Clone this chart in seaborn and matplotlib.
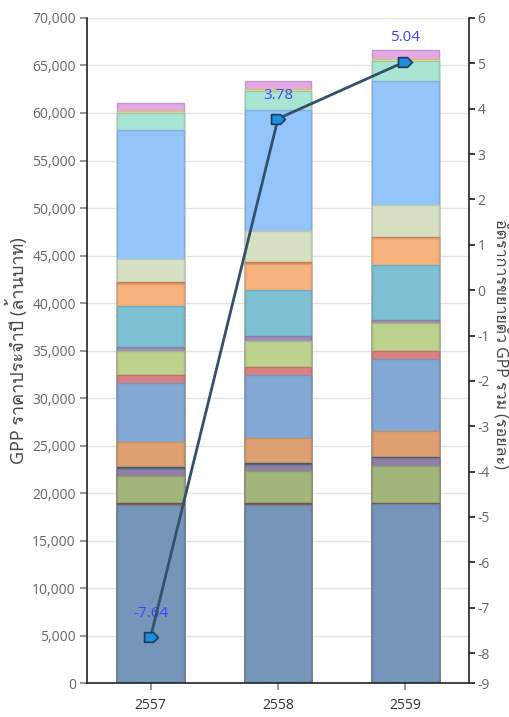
import seaborn as sns
import matplotlib
matplotlib.use("Agg")
import matplotlib.pyplot as plt
import matplotlib.colors as mcolors
from matplotlib import font_manager
from matplotlib.ft2font import FT2Font
from matplotlib.path import Path
from matplotlib.ticker import FuncFormatter
import numpy as np

# Data (ล้านบาท), stacked from bottom to top
years = ["2557", "2558", "2559"]
layers = [
    [18780, 18700, 18800],   # 1
    [200, 200, 200],         # 2
    [2850, 3400, 3850],      # 3
    [700, 700, 870],         # 4
    [200, 150, 100],         # 5
    [2680, 2660, 2740],      # 6
    [6130, 6610, 7520],      # 7
    [870, 880, 870],         # 8
    [2550, 2690, 2950],      # 9
    [360, 530, 350],         # 10
    [4360, 4820, 5800],      # 11
    [2350, 2800, 2800],      # 12
    [160, 170, 140],         # 13
    [2400, 3260, 3320],      # 14
    [13600, 12770, 13050],   # 15
    [1840, 1990, 2100],      # 16
    [160, 170, 180],         # 17
    [890, 880, 970],         # 18
]
layer_colors = [
    "#7595bb", "#8b5a4a", "#a2b57b", "#9080a8", "#45687a", "#dea070",
    "#84a8d4", "#d98080", "#bcd18c", "#9b8fba", "#7dc0d3", "#f7b27d",
    "#e48a5f", "#d7e1c2", "#93c5fb", "#a8e5d2", "#f3e07c", "#e2a9e4",
]
growth = [-7.64, 3.78, 5.04]


def find_thai_font():
    for f in font_manager.fontManager.ttflist:
        try:
            cm = FT2Font(f.fname).get_charmap()
        except Exception:
            continue
        if 0x0E01 in cm and 0x0E32 in cm and 0x0E49 in cm:
            return f.name
    return None


sns.set_theme(style="white")
thai = find_thai_font()
families = ["Open Sans", "DejaVu Sans"]
if thai:
    families = ["Open Sans", thai, "DejaVu Sans"]
plt.rcParams["font.family"] = families

fig = plt.figure(figsize=(5.1, 7.17), dpi=100)
ax = fig.add_axes([0.1706, 0.0474, 0.749, 0.9275])


def darker(c, f=0.88):
    r, g, b = mcolors.to_rgb(c)
    return (r * f, g * f, b * f)


# stacked bars: draw cumulative totals from the top layer down
cum = np.cumsum(np.array(layers), axis=0)
for k in range(len(layers) - 1, -1, -1):
    sns.barplot(
        x=years,
        y=cum[k],
        color=layer_colors[k],
        edgecolor=darker(layer_colors[k]),
        linewidth=1,
        width=0.524,
        saturation=1,
        ax=ax,
        zorder=2,
    )

ax.set_xlim(-0.5, 2.5)
ax.set_ylim(0, 70000)
ax.set_yticks(range(0, 70001, 5000))
ax.yaxis.set_major_formatter(FuncFormatter(lambda v, p: f"{int(v):,}"))
ax.yaxis.grid(True, color="#e3e3e3", linewidth=1)
ax.set_axisbelow(True)
ax.tick_params(axis="y", left=True, length=5, color="#888888",
               labelcolor="#666666", labelsize=10, pad=3)
ax.tick_params(axis="x", bottom=True, length=5, color="#888888",
               labelcolor="#333333", labelsize=10, pad=6)
ax.set_xlabel("")
ax.set_ylabel("GPP ราคาประจำปี (ล้านบาท)", fontsize=13, color="#444444", labelpad=3)
for s in ["top", "right"]:
    ax.spines[s].set_visible(False)
for s in ["left", "bottom"]:
    ax.spines[s].set_color("#222222")
    ax.spines[s].set_linewidth(1.2)

# growth line on the right axis
ax2 = ax.twinx()
arrow = Path([(-1, -0.7), (0.3, -0.7), (1, 0), (0.3, 0.7), (-1, 0.7), (-1, -0.7)],
             [Path.MOVETO, Path.LINETO, Path.LINETO, Path.LINETO, Path.LINETO, Path.CLOSEPOLY])
sns.lineplot(
    x=[0, 1, 2],
    y=growth,
    ax=ax2,
    color="#34506e",
    linewidth=2,
    marker=arrow,
    markersize=10,
    markerfacecolor="#1e8fe0",
    markeredgecolor="#203a56",
    markeredgewidth=1.2,
    zorder=5,
)
for i, v in enumerate(growth):
    ax2.annotate(f"{v:.2f}", (i, v), xytext=(0, 17), textcoords="offset points",
                 ha="center", va="center", color="#4040ff", fontsize=11)

ax2.set_xlim(-0.5, 2.5)
ax2.set_ylim(-8.66, 6)
rticks = list(range(-8, 7)) + [-8.66]
ax2.set_yticks(rticks)
ax2.set_yticklabels([str(t) for t in range(-8, 7)] + ["-9"])
ax2.tick_params(axis="y", right=True, length=4, color="#222222",
                labelcolor="#666666", labelsize=10, pad=2)
ax2.set_ylabel("อัตราการขยายตัว GPP รวม (ร้อยละ)", fontsize=11.5, color="#444444",
               rotation=270, va="center", ha="center")
ax2.yaxis.set_label_coords(1.084, 0.51)
ax2.grid(False)
for s in ["top", "left", "bottom"]:
    ax2.spines[s].set_visible(False)
ax2.spines["right"].set_color("#222222")
ax2.spines["right"].set_linewidth(1.2)

fig.savefig("out.png", dpi=100)
